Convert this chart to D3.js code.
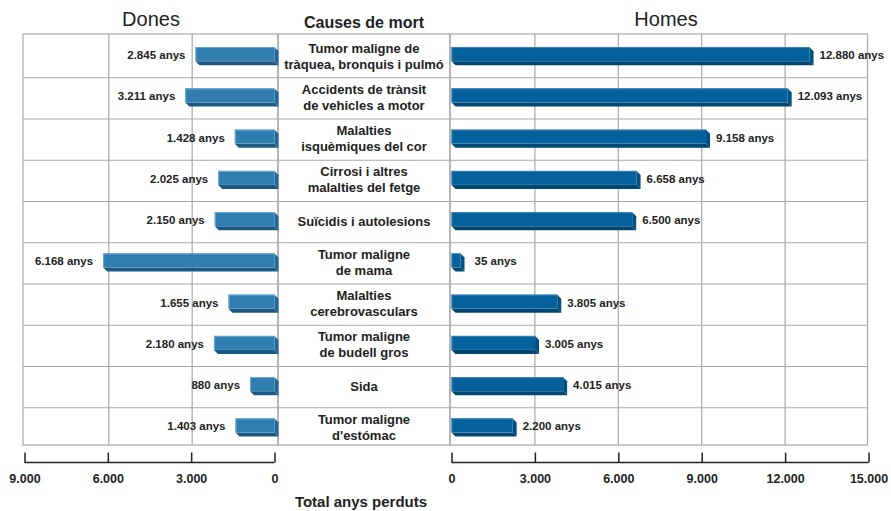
<!DOCTYPE html>
<html><head><meta charset="utf-8">
<script src="https://cdn.jsdelivr.net/npm/d3@7"></script>
<style>body{margin:0;background:#fff}svg{display:block}</style>
</head><body>
<svg id="c" width="891" height="511"></svg>
<script>
const causes = [
  ["Tumor maligne de", "tràquea, bronquis i pulmó"],
  ["Accidents de trànsit", "de vehicles a motor"],
  ["Malalties", "isquèmiques del cor"],
  ["Cirrosi i altres", "malalties del fetge"],
  ["Suïcidis i autolesions"],
  ["Tumor maligne", "de mama"],
  ["Malalties", "cerebrovasculars"],
  ["Tumor maligne", "de budell gros"],
  ["Sida"],
  ["Tumor maligne", "d'estómac"]
];
const dones = [2845, 3211, 1428, 2025, 2150, 6168, 1655, 2180, 880, 1403];
const homes = [12880, 12093, 9158, 6658, 6500, 35, 3805, 3005, 4015, 2200];
const leftTicks = [9000, 6000, 3000, 0];
const rightTicks = [0, 3000, 6000, 9000, 12000, 15000];
const titles = {left: "Dones", center: "Causes de mort", right: "Homes", axis: "Total anys perduts"};

const fmt = v => d3.format(",")(v).replace(/,/g, ".");
const svg = d3.select("#c");
const font = "'Liberation Sans', Arial, Helvetica, sans-serif";
const txt = "#222";

const gridTop = 34, gridBottom = 445;
const y = d3.scaleBand().domain(d3.range(causes.length)).range([36.5, 449]).padding(0);
const xL = d3.scaleLinear().domain([0, 9000]).range([274.5, 24.5]);
const xR = d3.scaleLinear().domain([0, 15000]).range([451.5, 868.5]);
const depth = 4, barH = 14;

const grid = svg.append("g").attr("stroke", "#a8a8a8").attr("stroke-width", 1.2).attr("fill", "none");
grid.append("rect").attr("x", 23).attr("y", gridTop).attr("width", 278 - 23).attr("height", gridBottom - gridTop);
[3000, 6000].forEach(t => grid.append("line").attr("x1", xL(t) + 1).attr("x2", xL(t) + 1).attr("y1", gridTop).attr("y2", gridBottom));
grid.append("rect").attr("x", 278).attr("y", gridTop).attr("width", 450 - 278).attr("height", gridBottom - gridTop);
grid.append("rect").attr("x", 450).attr("y", gridTop).attr("width", 867.5 - 450).attr("height", gridBottom - gridTop);
[3000, 6000, 9000, 12000].forEach(t => grid.append("line").attr("x1", xR(t)).attr("x2", xR(t)).attr("y1", gridTop).attr("y2", gridBottom));
d3.range(1, causes.length).forEach(i => {
  grid.append("line").attr("x1", 23).attr("x2", 867.5).attr("y1", y(i)).attr("y2", y(i));
});

function bar3d(g, x0, x1, top, front, side, bottom, hi) {
  const w = x1 - x0;
  g.append("path").attr("d", `M${x0},${top + barH} L${x1},${top + barH} L${x1 + depth},${top + barH + depth} L${x0 + depth},${top + barH + depth} Z`).attr("fill", bottom);
  g.append("path").attr("d", `M${x1},${top} L${x1 + depth},${top + depth} L${x1 + depth},${top + barH + depth} L${x1},${top + barH} Z`).attr("fill", side);
  g.append("rect").attr("x", x0).attr("y", top).attr("width", w).attr("height", barH).attr("fill", front);
  g.append("line").attr("x1", x0).attr("x2", x1).attr("y1", top + 0.5).attr("y2", top + 0.5).attr("stroke", hi).attr("stroke-width", 1);
  g.append("line").attr("x1", x0 + 0.5).attr("x2", x0 + 0.5).attr("y1", top).attr("y2", top + barH).attr("stroke", hi).attr("stroke-width", 1);
}

const bars = svg.append("g");
const minW = 9;
const lh = 16;
causes.forEach((c, i) => {
  const cy = y(i) + y.bandwidth() / 2 - 1;
  const top = cy - (barH + depth) / 2;
  const lx0 = Math.min(xL(dones[i]), xL(0) - minW);
  bar3d(bars, lx0, xL(0), top, "#2f7db1", "#22679a", "#1d5883", "#6aa9d3");
  bars.append("text").attr("x", lx0 - 10).attr("y", cy - 1).attr("dy", "0.35em")
    .attr("text-anchor", "end").attr("font-family", font).attr("font-weight", "bold")
    .attr("font-size", 11.5).attr("fill", txt).text(fmt(dones[i]) + " anys");
  const rx1 = Math.max(xR(homes[i]), xR(0) + minW);
  bar3d(bars, xR(0), rx1, top, "#04619c", "#034f80", "#03466f", "#3b85b8");
  bars.append("text").attr("x", rx1 + depth + (homes[i] < 1000 ? 10 : 6)).attr("y", cy - 1).attr("dy", "0.35em")
    .attr("text-anchor", "start").attr("font-family", font).attr("font-weight", "bold")
    .attr("font-size", 11.5).attr("fill", txt).text(fmt(homes[i]) + " anys");
  const t = svg.append("text").attr("x", 364).attr("text-anchor", "middle")
    .attr("font-family", font).attr("font-weight", "bold").attr("font-size", 13).attr("fill", txt);
  c.forEach((line, k) => {
    t.append("tspan").attr("x", 364).attr("y", cy - (c.length - 1) * lh / 2 + k * lh).attr("dy", "0.35em").text(line);
  });
});

svg.append("text").attr("x", 151).attr("y", 26).attr("text-anchor", "middle").attr("font-family", font)
  .attr("font-size", 20).attr("fill", txt).text(titles.left);
svg.append("text").attr("x", 666).attr("y", 26).attr("text-anchor", "middle").attr("font-family", font)
  .attr("font-size", 20).attr("fill", txt).text(titles.right);
svg.append("text").attr("x", 364).attr("y", 28).attr("text-anchor", "middle").attr("font-family", font)
  .attr("font-weight", "bold").attr("font-size", 16).attr("fill", txt).text(titles.center);

function styleAxis(g) {
  g.select(".domain").remove();
  g.selectAll(".tick line").attr("stroke", "#222").attr("stroke-width", 1.5);
  g.selectAll(".tick text").attr("font-family", font).attr("font-weight", "bold").attr("font-size", 12.5).attr("fill", txt);
}
const axY = 462.5;
const axL = svg.append("g").attr("transform", `translate(0,${axY})`)
  .call(d3.axisTop(xL).tickValues(leftTicks).tickFormat(fmt).tickSize(10).tickSizeOuter(0));
styleAxis(axL);
axL.selectAll(".tick text").attr("y", 0).attr("dy", "1.65em");
axL.append("line").attr("x1", xL(9000)).attr("x2", xL(0)).attr("y1", 0).attr("y2", 0).attr("stroke", "#222").attr("stroke-width", 1.5);

const axR = svg.append("g").attr("transform", `translate(0,${axY})`)
  .call(d3.axisTop(xR).tickValues(rightTicks).tickFormat(fmt).tickSize(10).tickSizeOuter(0));
styleAxis(axR);
axR.selectAll(".tick text").attr("y", 0).attr("dy", "1.65em");
axR.append("line").attr("x1", xR(0)).attr("x2", xR(15000)).attr("y1", 0).attr("y2", 0).attr("stroke", "#222").attr("stroke-width", 1.5);

svg.append("text").attr("x", 361).attr("y", 507).attr("text-anchor", "middle").attr("font-family", font)
  .attr("font-weight", "bold").attr("font-size", 15).attr("fill", txt).text(titles.axis);
</script>
</body></html>
